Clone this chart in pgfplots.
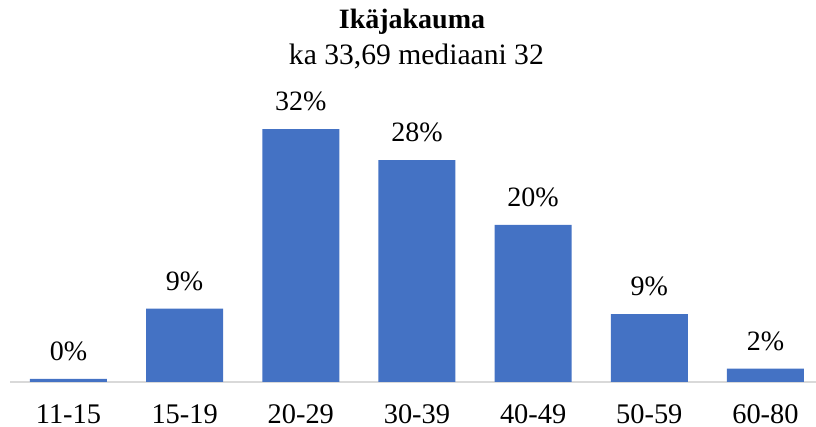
\documentclass[border=0pt]{standalone}
\usepackage{fontspec}
\setmainfont{Liberation Serif}
\usepackage{pgfplots}
\pgfplotsset{compat=1.18}
\definecolor{barblue}{HTML}{4472C4}
\begin{document}
\fontsize{14pt}{16pt}\selectfont
\begin{tikzpicture}
\path[use as bounding box] (-5.2pt,-22.5pt) rectangle (402.8pt,191pt);
\begin{axis}[
 at={(0pt,0pt)}, anchor=south west,
 scale only axis, width=402.8pt, height=158pt,
 xmin=-0.5, xmax=6.435, ymin=0, ymax=40,
 axis y line=none, axis x line*=bottom,
 x axis line style={draw=black!15, line width=0.75pt, -},
 ybar, bar width=38.5pt,
 xtick={0,...,6},
 xticklabels={11-15,15-19,20-29,30-39,40-49,50-59,60-80},
 major tick length=0pt,
 xticklabel style={anchor=base, inner sep=0pt, yshift=-20.8pt, font=\fontsize{14.2pt}{16pt}\selectfont},
 ytick=\empty,
 /pgf/number format/assume math mode=true,
 nodes near coords={\pgfmathprintnumber[fixed,precision=0]{\pgfplotspointmeta}\%},
 every node near coord/.append style={anchor=base, yshift=9.2pt, black, font=\fontsize{14pt}{16pt}\selectfont},
 clip=false,
]
\addplot[fill=barblue, draw=none] coordinates {(0,0.4) (1,9.3) (2,32.0) (3,28.1) (4,19.9) (5,8.6) (6,1.7)};
\end{axis}
\node[anchor=base, font=\fontsize{14pt}{16pt}\selectfont\bfseries] at (200.8pt,176.5pt) {Ikäjakauma};
\node[anchor=base, font=\fontsize{14.8pt}{17pt}\selectfont] at (203pt,158.5pt) {ka 33,69 mediaani 32};
\end{tikzpicture}
\end{document}
